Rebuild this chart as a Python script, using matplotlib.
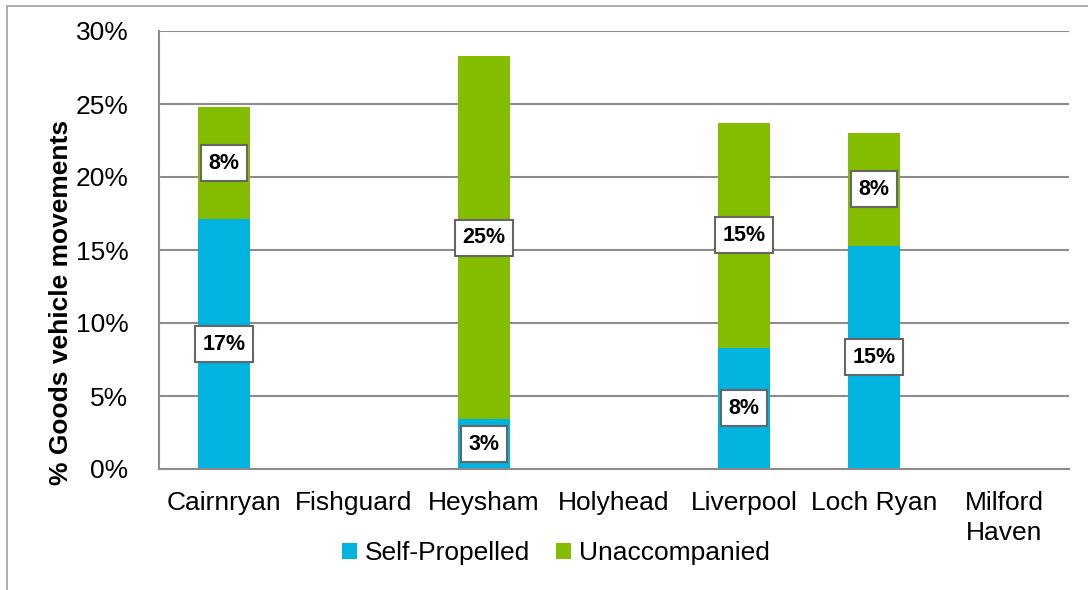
import matplotlib.pyplot as plt
from matplotlib.patches import Rectangle

ports = ["Cairnryan", "Fishguard", "Heysham", "Holyhead", "Liverpool", "Loch Ryan", "Milford\nHaven"]
self_propelled = [17.1, 0, 3.4, 0, 8.3, 15.3, 0]
unaccompanied = [7.7, 0, 24.9, 0, 15.4, 7.7, 0]
sp_labels = ["17%", "", "3%", "", "8%", "15%", ""]
un_labels = ["8%", "", "25%", "", "15%", "8%", ""]

blue = "#00B4E0"
green = "#84BD00"
grey = "#8C8C8C"

plt.rcParams["font.family"] = ["Liberation Sans", "DejaVu Sans"]

fig = plt.figure(figsize=(10.88, 5.9), dpi=100)
fig.patches.append(Rectangle((7 / 1088, -0.1), 1.2, 1.1 - 6 / 590,
                             transform=fig.transFigure, fill=False,
                             edgecolor="#A0A0A0", lw=1.2))
ax = fig.add_axes([159 / 1088, 1 - 469 / 590, 910 / 1088, 438 / 590])

x = list(range(len(ports)))
b1 = ax.bar(x, self_propelled, width=0.4, color=blue, label="Self-Propelled", zorder=2)
b2 = ax.bar(x, unaccompanied, width=0.4, bottom=self_propelled, color=green,
            label="Unaccompanied", zorder=2)

box = dict(boxstyle="square,pad=0.35", facecolor="white", edgecolor="#666666", lw=1.5)
for i in x:
    if sp_labels[i]:
        ax.text(i, self_propelled[i] / 2, sp_labels[i], ha="center", va="center",
                fontsize=15.5, fontweight="bold", bbox=box, zorder=3)
    if un_labels[i]:
        ax.text(i, self_propelled[i] + unaccompanied[i] / 2, un_labels[i], ha="center",
                va="center", fontsize=15.5, fontweight="bold", bbox=box, zorder=3)

ax.set_xlim(-0.5, len(ports) - 0.5)
ax.set_ylim(0, 30)
ax.set_yticks([0, 5, 10, 15, 20, 25, 30])
ax.set_yticklabels([f"{v}%" for v in range(0, 31, 5)], fontsize=19)
ax.set_xticks(x)
ax.set_xticklabels(ports, fontsize=19, linespacing=1.3)
ax.tick_params(axis="y", length=0, pad=22)
ax.tick_params(axis="x", length=0, pad=16)
ax.yaxis.grid(True, color=grey, lw=1.5, zorder=0)
ax.set_axisbelow(True)
for side in ["top", "right"]:
    ax.spines[side].set_visible(False)
for side in ["left", "bottom"]:
    ax.spines[side].set_color(grey)
    ax.spines[side].set_linewidth(1.5)

ax.set_ylabel("% Goods vehicle movements", fontsize=19, fontweight="bold")
ax.yaxis.set_label_coords(-0.095, 0.38)

fig.legend(handles=[b1, b2], loc="center", bbox_to_anchor=(556 / 1088, 1 - 553 / 590),
           ncol=2, frameon=False, fontsize=19, handlelength=0.55, handleheight=0.55,
           handletextpad=0.3, columnspacing=1.0)

fig.savefig("out.png", dpi=100)
